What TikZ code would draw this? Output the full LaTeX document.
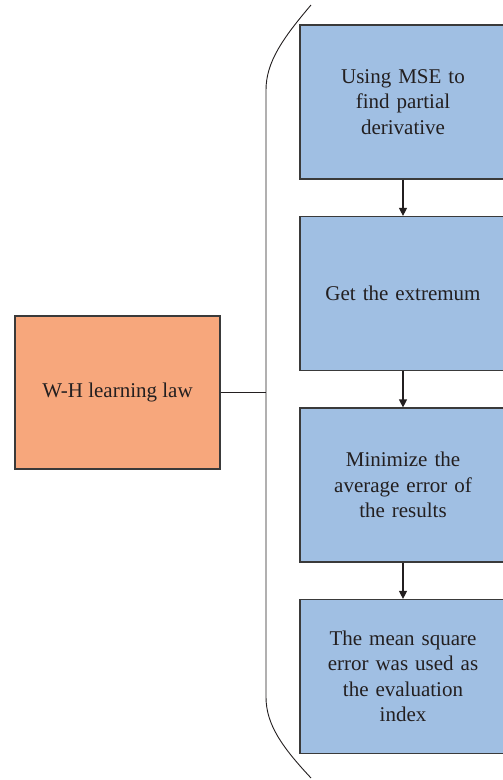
\documentclass[tikz,border=0pt]{standalone}
\usepackage{fontspec}
\setmainfont{Liberation Serif}
\usetikzlibrary{arrows.meta}
\definecolor{orangefill}{HTML}{F7A77C}
\definecolor{bluefill}{HTML}{A0BFE3}
\definecolor{edge}{HTML}{3A3A3A}
\definecolor{ink}{HTML}{231F20}
\tikzset{
  box/.style={draw=edge, line width=1.2pt, align=center, text=ink,
    font=\fontsize{21}{25.5}\selectfont, inner sep=0pt},
  bluebox/.style={box, fill=bluefill, minimum width=206pt, minimum height=154pt, text width=185pt},
  orangebox/.style={box, fill=orangefill, minimum width=205pt, minimum height=153pt},
  link/.style={draw=ink, line width=1.2pt},
  flow/.style={link, -{Triangle[length=8pt,width=8pt]}},
  bracket/.style={draw=ink, line width=0.9pt}
}
\begin{document}
\begin{tikzpicture}[x=1pt,y=-1pt]
\useasboundingbox (0,0) rectangle (503,780);
\begin{scope}
\clip (0,0) rectangle (503,780);
\node[orangebox] (wh) at (117.5,392.5) {W-H learning law};
\node[bluebox] (b1) at (403,102) {Using MSE to\\find partial\\derivative};
\node[bluebox] (b2) at (403,293.5) {Get the extremum};
\node[bluebox] (b3) at (403,485) {Minimize the\\average error of\\the results};
\node[bluebox] (b4) at (403,676.5) {The mean square\\error was used as\\the evaluation\\index};
\draw[bracket] (311,5) .. controls (283,38) and (266,62) .. (266,90)
  -- (266,697) .. controls (266,725) and (283,748) .. (311,778);
\coordinate (bm) at (266,392.5);
\draw[link] (wh.east) -- (bm);
\draw[flow] (b1.south) -- (b2.north);
\draw[flow] (b2.south) -- (b3.north);
\draw[flow] (b3.south) -- (b4.north);
\end{scope}
\end{tikzpicture}
\end{document}
